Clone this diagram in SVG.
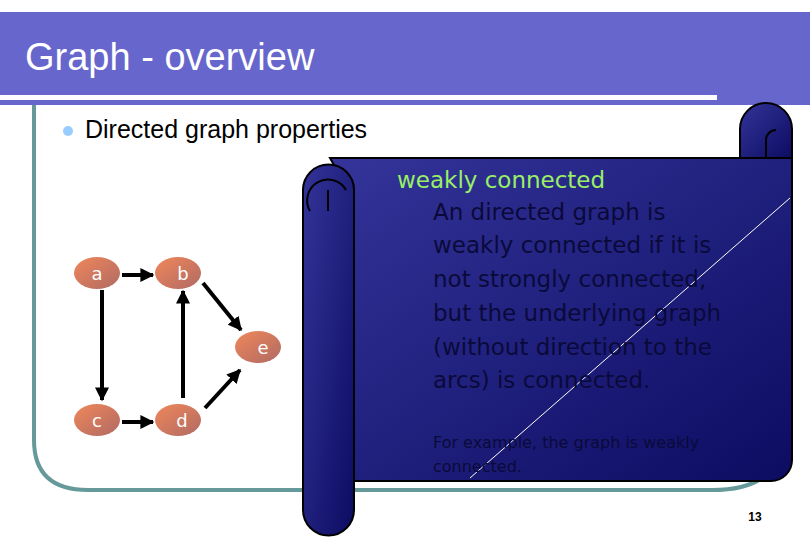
<svg xmlns="http://www.w3.org/2000/svg" width="810" height="540" viewBox="0 0 810 540">
<defs>
<linearGradient id="sg" x1="0" y1="0" x2="1" y2="1"><stop offset="0" stop-color="#34349a"/><stop offset="1" stop-color="#0c0c62"/></linearGradient>
<linearGradient id="ng" x1="0" y1="0" x2="1" y2="1"><stop offset="0" stop-color="#f0875a"/><stop offset="1" stop-color="#b06a64"/></linearGradient>
<marker id="ah" viewBox="0 0 10 10" refX="9" refY="5" markerWidth="3.5" markerHeight="3.5" orient="auto"><path d="M0,0L10,5L0,10z" fill="#000"/></marker>
</defs>
<style>
.n{fill:url(#ng)}
.nt{fill:#fff;font-family:"DejaVu Sans",sans-serif;font-size:18px;text-anchor:middle}
.e{stroke:#000;stroke-width:4;fill:none;marker-end:url(#ah)}
.s{fill:url(#sg);stroke:#000;stroke-width:2}
.b{fill:#0a0a3a;font-family:"DejaVu Sans",sans-serif;font-size:23px}
</style>
<rect width="810" height="540" fill="#fff"/>
<path d="M0,12 H810 V105 H0 Z" fill="#6666cc"/>
<rect x="0" y="95" width="717" height="5" fill="#fff"/>
<text x="25" y="70" fill="#fff" font-family="Liberation Sans,sans-serif" font-size="38">Graph - overview</text>
<path d="M34,105 V440 Q34,490 88,490 H712 Q745,490 762,478" fill="none" stroke="#669999" stroke-width="4"/>
<circle cx="68" cy="131" r="5" fill="#99ccff"/>
<text x="85" y="138" font-family="Liberation Sans,sans-serif" font-size="25" fill="#000">Directed graph properties</text>
<g id="connectors">
<line class="e" x1="122" y1="275" x2="153" y2="275"/>
<line class="e" x1="102" y1="290" x2="102" y2="400"/>
<line class="e" x1="183" y1="398" x2="183" y2="291"/>
<line class="e" x1="203" y1="283" x2="241" y2="330"/>
<line class="e" x1="205" y1="408" x2="240" y2="370"/>
<line class="e" x1="122" y1="422" x2="153" y2="422"/>
</g>
<g id="a"><ellipse class="n" cx="97" cy="273" rx="23" ry="16"/><text class="nt" x="97" y="280">a</text></g>
<g id="b"><ellipse class="n" cx="178" cy="273" rx="23" ry="16"/><text class="nt" x="183" y="280">b</text></g>
<g id="e"><ellipse class="n" cx="258" cy="347" rx="23" ry="16"/><text class="nt" x="263" y="354">e</text></g>
<g id="c"><ellipse class="n" cx="97" cy="420" rx="23" ry="16"/><text class="nt" x="97" y="427">c</text></g>
<g id="d"><ellipse class="n" cx="178" cy="420" rx="23" ry="16"/><text class="nt" x="182" y="427">d</text></g>
<g id="scroll">
<path class="s" d="M766,103 A26,26 0 0 1 792,129 V158 H740 V129 A26,26 0 0 1 766,103 Z"/>
<path class="s" d="M330,158 H792 V460 A21,21 0 0 1 771,481 H354 V200 Z"/>
<path class="s" d="M303,190 A25,25 0 0 1 354,190 V510 A25.5,25.5 0 0 1 303,510 Z"/>
<path d="M310,211 A18,18 0 1 1 346,190 M328,211 V190" fill="none" stroke="#000" stroke-width="2"/>
<path d="M766,158 V140 A10,10 0 0 1 776,130" fill="none" stroke="#000" stroke-width="2"/>
<line x1="790" y1="198" x2="470" y2="478" stroke="#fff" stroke-width="1"/>
<text x="397" y="188" fill="#99ee66" font-family="DejaVu Sans,sans-serif" font-size="23">weakly connected</text>
<text class="b"><tspan x="433" y="220">An directed graph is</tspan><tspan x="433" y="253">weakly connected if it is</tspan><tspan x="433" y="287">not strongly connected,</tspan><tspan x="433" y="321">but the underlying graph</tspan><tspan x="433" y="355">(without direction to the</tspan><tspan x="433" y="388">arcs) is connected.</tspan></text>
<text fill="#0a0a3a" font-family="DejaVu Sans,sans-serif" font-size="16"><tspan x="433" y="448">For example, the graph is weakly</tspan><tspan x="433" y="472">connected.</tspan></text>
</g>
<text x="755" y="521" font-family="Liberation Sans,sans-serif" font-size="12" font-weight="bold" text-anchor="middle">13</text>
</svg>
